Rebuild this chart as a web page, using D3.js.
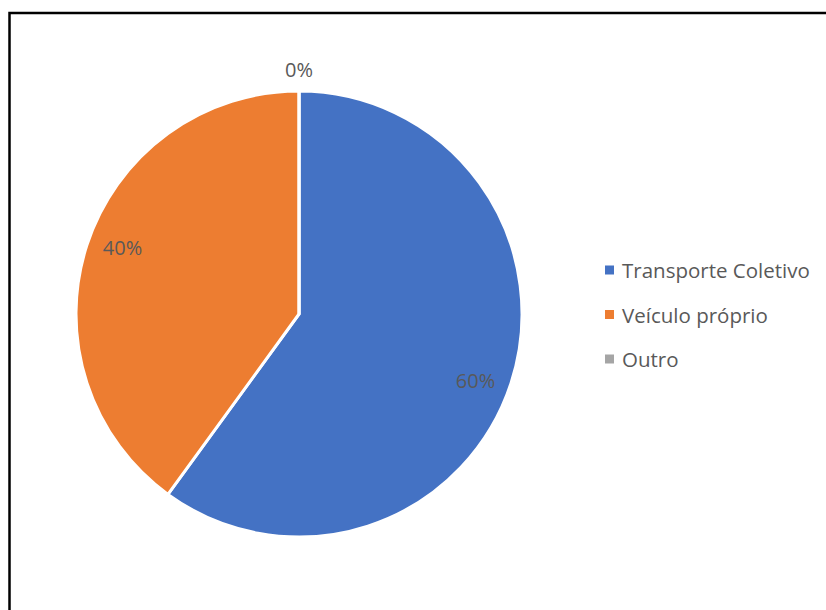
<!DOCTYPE html>
<html>
<head>
<meta charset="utf-8">
<script src="https://cdn.jsdelivr.net/npm/d3@7"></script>
<style>
  html, body { margin: 0; padding: 0; background: #fff; }
  svg { display: block; }
</style>
</head>
<body>
<svg id="chart" width="826" height="610"></svg>
<script>
// Meio de transporte utilizado
const categories = ["Transporte Coletivo", "Veículo próprio", "Outro"];
const values = [60, 40, 0];
const colors = ["#4472C4", "#ED7D31", "#A5A5A5"];

const svg = d3.select("#chart");
const font = "'Open Sans', 'Noto Sans', sans-serif";
const textColor = "#595959";

// chart frame
svg.append("path")
  .attr("d", "M9.5,613 L9.5,13 L830,13")
  .attr("fill", "none")
  .attr("stroke", "#000")
  .attr("stroke-width", 2.5);

const cx = 299, cy = 314, r = 223;
const g = svg.append("g").attr("transform", `translate(${cx},${cy})`);

const pie = d3.pie().sort(null).value(d => d.value);
const arcs = pie(categories.map((c, i) => ({ name: c, value: values[i], color: colors[i] })));
const arc = d3.arc().innerRadius(0).outerRadius(r);

g.selectAll("path.slice")
  .data(arcs)
  .join("path")
  .attr("class", "slice")
  .attr("d", arc)
  .attr("fill", d => d.data.color)
  .attr("stroke", "#fff")
  .attr("stroke-width", 3)
  .attr("stroke-linejoin", "round");

// percentage labels: inside the slice near the rim, outside when the slice is empty
function labelPos(d) {
  const mid = (d.startAngle + d.endAngle) / 2;
  const inside = d.value > 0;
  const rr = inside ? r * 0.845 : r + 22;
  const a = inside ? mid + 0.044 : mid;
  return [Math.sin(a) * rr, -Math.cos(a) * rr];
}

const total = d3.sum(values);
g.selectAll("text.value")
  .data(arcs)
  .join("text")
  .attr("class", "value")
  .attr("transform", d => {
    const p = labelPos(d);
    return `translate(${p[0]},${p[1]})`;
  })
  .attr("text-anchor", "middle")
  .attr("dominant-baseline", "central")
  .attr("font-family", font)
  .attr("font-size", 20)
  .attr("fill", textColor)
  .text(d => Math.round(d.data.value / total * 100) + "%");

// legend
const legend = svg.append("g").attr("transform", "translate(605,270)");
const item = legend.selectAll("g")
  .data(categories)
  .join("g")
  .attr("transform", (d, i) => `translate(0,${i * 44.5})`);
item.append("rect")
  .attr("x", 0).attr("y", -4.5)
  .attr("width", 9).attr("height", 9)
  .attr("fill", (d, i) => colors[i]);
item.append("text")
  .attr("x", 17).attr("y", 0)
  .attr("dominant-baseline", "central")
  .attr("font-family", font)
  .attr("font-size", 20.5)
  .attr("fill", textColor)
  .text(d => d);
</script>
</body>
</html>
